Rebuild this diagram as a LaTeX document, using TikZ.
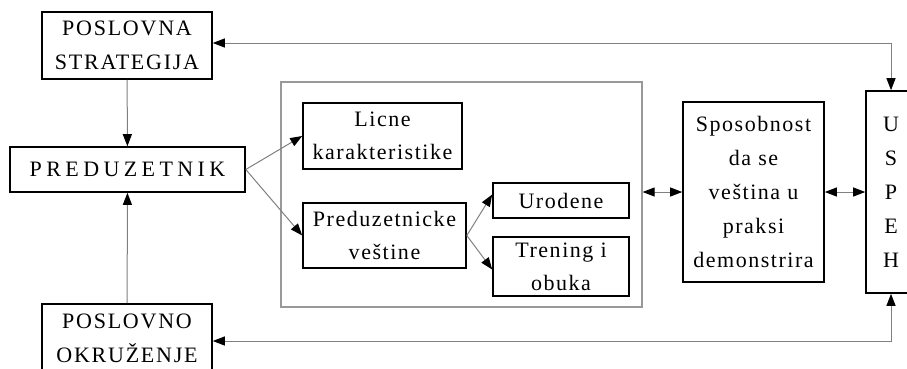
\documentclass[tikz,border=0pt]{standalone}
\usepackage{fontspec}
\setmainfont{Liberation Serif}
\newfontfamily\capsfont[LetterSpace=8]{Liberation Serif}
\newfontfamily\widefont[LetterSpace=20]{Liberation Serif}
\newfontfamily\lowfont[LetterSpace=7]{Liberation Serif}
\usetikzlibrary{shapes,arrows.meta,positioning}

\begin{document}
\begin{tikzpicture}[x=1pt,y=-1pt,>={Triangle[length=12pt,width=9pt,color=black]},
  box/.style={rectangle,draw,line width=1.6pt,align=center,inner sep=0pt,font=\lowfont\fontsize{22}{33}\selectfont},
  capbox/.style={box,font=\capsfont\fontsize{22}{34}\selectfont},
  groupbox/.style={rectangle,draw=gray!80,line width=1.2pt,inner sep=0pt},
  link/.style={draw=gray,line width=1pt}]

       \useasboundingbox (0,0) rectangle (907,368);

       \node [capbox,minimum width=170pt,minimum height=67pt] (strat) at (127,45.5) {POSLOVNA\\STRATEGIJA};
       \node [box,font=\widefont\fontsize{22}{34}\selectfont,minimum width=235pt,minimum height=45pt] (pred) at (127.5,169.5) {PREDUZETNIK};
       \node [capbox,minimum width=170pt,minimum height=68pt] (okr) at (127,338) {POSLOVNO\\OKRUŽENJE};

       \node [groupbox,minimum width=361pt,minimum height=225pt] (grp) at (461.5,194.5) {};
       \node [box,minimum width=159pt,minimum height=66pt] (licne) at (382.5,136) {Licne\\karakteristike};
       \node [box,minimum width=163pt,minimum height=65pt] (vest) at (384.5,235.5) {Preduzetnicke\\veštine};
       \node [box,minimum width=136pt,minimum height=35pt] (urod) at (561,200.5) {Urodene};
       \node [box,minimum width=136pt,minimum height=59pt] (tren) at (561,266.5) {Trening i\\obuka};

       \node [box,font=\lowfont\fontsize{22}{34}\selectfont,minimum width=141pt,minimum height=180pt] (spos) at (753.5,192) {Sposobnost\\da se\\veština u\\praksi\\demonstrira};
       \node [box,font=\capsfont\fontsize{22}{34}\selectfont,minimum width=50pt,minimum height=202pt] (uspeh) at (891,192) {U\\S\\P\\E\\H};

       \draw [link,->] (strat) -- (pred);
       \draw [link,->] (okr) -- (pred);
       \draw [link,->] (pred.east) -- (licne.west);
       \draw [link,->] (pred.east) -- (vest.west);
       \draw [link,->] (vest.east) -- ([yshift=6pt]urod.west);
       \draw [link,->] (vest.east) -- ([yshift=-3pt]tren.west);
       \draw [link,<->] (grp.east |- spos.west) -- (spos.west);
       \draw [link,<->] (spos.east) -- (uspeh.west);
       \draw [link,<->] ([yshift=2.5pt]strat.east) -| (uspeh.north);
       \draw [link,<->] ([yshift=-3pt]okr.east) -| (uspeh.south);
\end{tikzpicture}
\end{document}
